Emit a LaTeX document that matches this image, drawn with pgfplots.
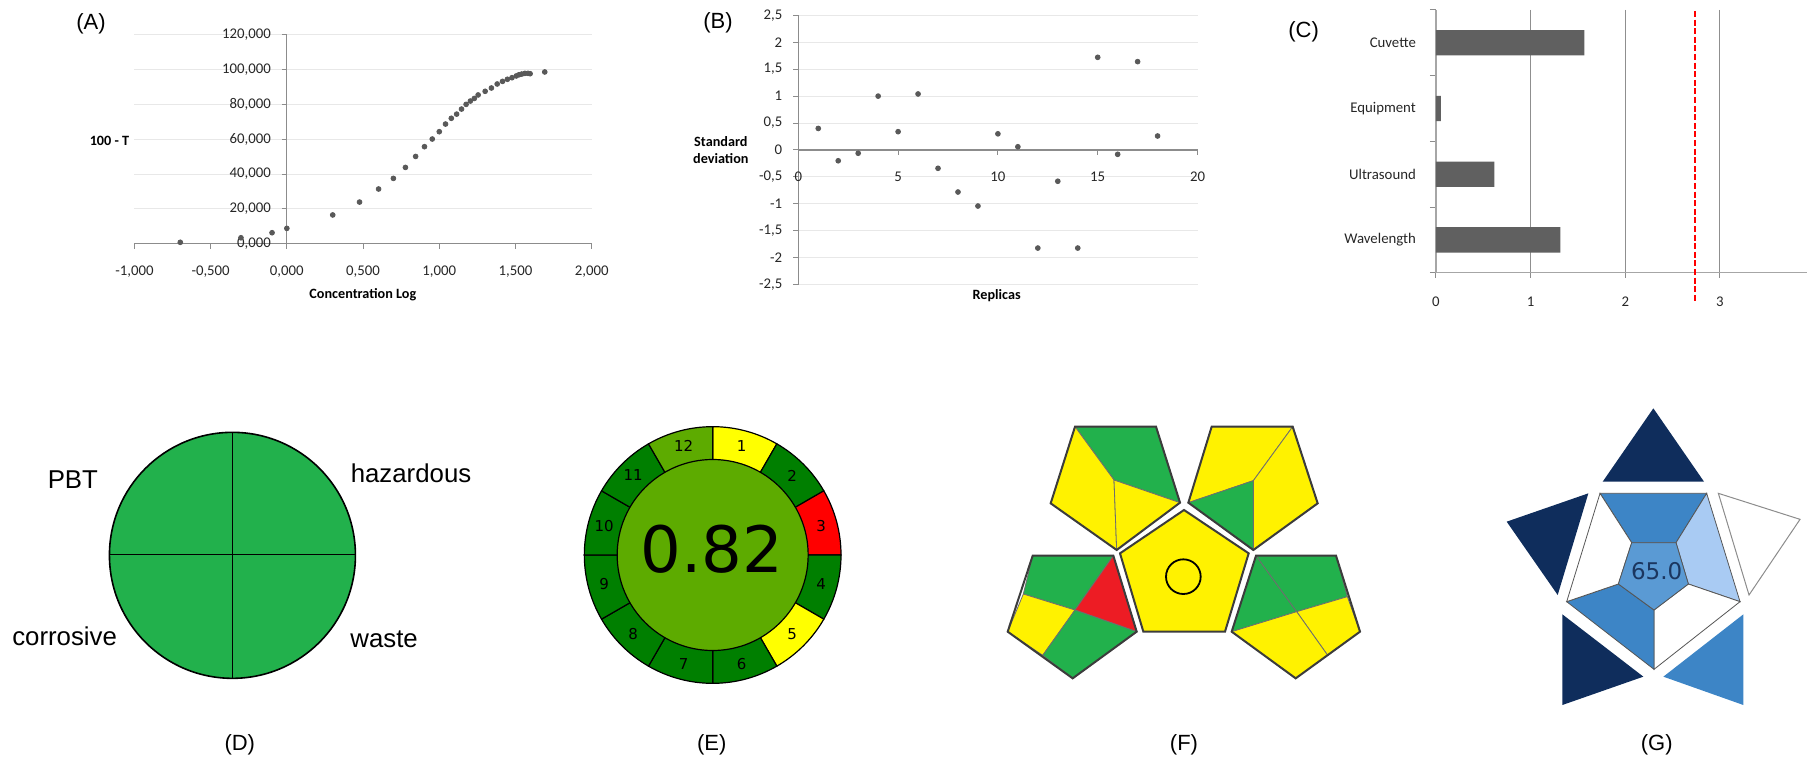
\documentclass[border=0pt]{standalone}
\usepackage{fontspec}
\setmainfont{Carlito}
\newfontfamily\arialf{Liberation Sans}
\newfontfamily\dejavu{DejaVu Sans}
\usepackage{pgfplots}
\pgfplotsset{compat=1.18}

\definecolor{markgray}{HTML}{595959}
\definecolor{gridgray}{HTML}{E8E8E8}
\definecolor{axgray}{HTML}{8C8C8C}
\definecolor{bargray}{HTML}{606060}
\definecolor{cgrid}{HTML}{8F8F8F}
\definecolor{dgreen}{HTML}{22B14C}
\definecolor{eyellow}{HTML}{FFFF00}
\definecolor{edark}{HTML}{007F00}
\definecolor{ered}{HTML}{FF0000}
\definecolor{elight}{HTML}{5DAB00}
\definecolor{fyellow}{HTML}{FFF200}
\definecolor{fgreen}{HTML}{22B14C}
\definecolor{fred}{HTML}{ED1C24}
\definecolor{fline}{HTML}{3C3C3C}
\definecolor{finner}{HTML}{6E6E6E}
\definecolor{gnavy}{HTML}{0F2D5C}
\definecolor{gmed}{HTML}{3D85C6}
\definecolor{glight}{HTML}{A9CBF3}
\definecolor{ginner}{HTML}{5A9AD4}
\definecolor{gtext}{HTML}{1B365F}
\definecolor{gline}{HTML}{555555}

\newcommand\tickfont{\fontsize{7.4}{8.9}\selectfont}
\newcommand\labfont{\bfseries\fontsize{7.1}{8.5}\selectfont}
\newcommand\panelfont{\arialf\fontsize{11}{13}\selectfont}

\pgfplotsset{
  panel/.style={scale only axis, anchor=south west, enlargelimits=false,
    hide axis, clip=false, y dir=reverse},
  excel/.style={scale only axis, anchor=south west, enlargelimits=false, clip=false,
    /pgf/number format/assume math mode=true,
    tick label style={font=\tickfont, black!85},
    axis line style={axgray, line width=0.6pt},
    tick style={axgray, line width=0.5pt},
    tick align=outside, major tick length=2.5pt,
  },
}

\begin{document}
\begin{tikzpicture}
\useasboundingbox (0,0) rectangle (903.5pt,380pt);

% ---------------- (A) ----------------
\begin{axis}[excel,
  at={(67.2pt,258.15pt)}, width=228.65pt, height=104.5pt,
  xmin=-1, xmax=2, ymin=0, ymax=120,
  axis x line*=bottom, axis y line*=middle,
  hide obscured x ticks=false, hide obscured y ticks=false,
  xtick={-1,-0.5,0,0.5,1,1.5,2}, ytick={0,20,40,60,80,100,120},
  ymajorgrids, grid style={gridgray, line width=0.5pt},
  xticklabel style={yshift=-5pt, /pgf/number format/.cd, fixed, fixed zerofill, precision=3, use comma, 1000 sep={}},
  yticklabel style={xshift=-2pt, /pgf/number format/.cd, fixed, fixed zerofill, precision=3, use comma, 1000 sep={}},
  xlabel={Concentration Log}, ylabel={100 - T},
  xlabel style={font=\labfont, at={(axis description cs:0.4995,-0.245)}, anchor=center},
  ylabel style={font=\labfont, rotate=-90, at={(axis description cs:-0.0545,0.491)}, anchor=center},
]
\addplot[only marks, mark=*, mark size=1.2pt, color=markgray] coordinates {
(-0.699,0.8) (-0.301,3.4) (-0.097,6.3) (0,8.8) (0.301,16.5) (0.477,23.9)
(0.602,31.4) (0.699,37.5) (0.778,43.8) (0.845,50.1) (0.903,55.7) (0.954,60.1)
(1.000,64.3) (1.041,68.7) (1.079,72.0) (1.114,74.4) (1.146,77.3) (1.176,80.0)
(1.204,81.9) (1.230,83.4) (1.255,85.4) (1.301,87.5) (1.342,89.4) (1.380,91.7)
(1.415,93.2) (1.447,94.4) (1.477,95.3) (1.505,96.3) (1.523,97.0) (1.541,97.4)
(1.562,97.8) (1.582,97.8) (1.596,97.6) (1.692,98.6)
};
\node[font=\panelfont] at (axis description cs:-0.095,1.051) {(A)};
\end{axis}

% ---------------- (B) ----------------
\begin{axis}[excel,
  at={(399.15pt,237.65pt)}, width=199.6pt, height=134.7pt,
  xmin=0, xmax=20, ymin=-2.5, ymax=2.5,
  axis x line*=middle, axis y line*=left,
  hide obscured x ticks=false, hide obscured y ticks=false,
  xtick={0,5,10,15,20}, ytick={-2.5,-2,-1.5,-1,-0.5,0,0.5,1,1.5,2,2.5},
  ymajorgrids, grid style={gridgray, line width=0.5pt},
  xticklabel style={yshift=-5pt},
  yticklabel style={xshift=-2pt, /pgf/number format/.cd, fixed, precision=1, use comma},
  xlabel={Replicas}, ylabel={Standard\\deviation},
  xlabel style={font=\labfont, at={(axis description cs:0.497,-0.042)}, anchor=center},
  ylabel style={font=\labfont, align=center, rotate=-90, at={(axis description cs:-0.194,0.5)}, anchor=center},
]
\addplot[only marks, mark=*, mark size=1.2pt, color=markgray] coordinates {
(1,0.40) (2,-0.20) (3,-0.06) (4,1.00) (5,0.34) (6,1.04) (7,-0.34) (8,-0.78) (9,-1.04)
(10,0.30) (11,0.06) (12,-1.82) (13,-0.58) (14,-1.82) (15,1.72) (16,-0.08) (17,1.64) (18,0.26)
};
\node[font=\panelfont] at (axis description cs:-0.201,0.9725) {(B)};
\end{axis}

% ---------------- (C) ----------------
\begin{axis}[excel,
  at={(717.95pt,243.65pt)}, width=185.55pt, height=131.35pt,
  xmin=0, xmax=3.92, ymin=0.5, ymax=4.5, y dir=reverse,
  axis x line*=bottom, axis y line*=left,
  xtick={0,1,2,3}, ytick={1,2,3,4},
  yticklabels={Cuvette,Equipment,Ultrasound,Wavelength},
  minor ytick={0.5,1.5,2.5,3.5,4.5},
  major y tick style={draw=none}, minor y tick style={axgray, line width=0.5pt},
  minor tick length=3pt,
  xmajorgrids, grid style={cgrid, line width=0.5pt},
  axis line style={draw=black!35, line width=0.7pt},
  xticklabel style={yshift=-6pt},
  yticklabel style={xshift=-4pt},
]
\addplot[xbar, bar width=12.65pt, fill=bargray, draw=none] coordinates {
(1.567,1) (0.053,2) (0.618,3) (1.315,4)};
\addplot[sharp plot, red, line width=1pt, dash pattern=on 3pt off 1.3pt] coordinates {
(2.74,0.515) (2.74,4.942)};
\node[font=\panelfont] at (axis description cs:-0.3565,0.917) {(C)};
\end{axis}

% ---------------- (D) ----------------
\begin{axis}[panel, at={(0pt,0pt)}, width=280pt, height=190pt,
  xmin=0, xmax=1560, ymin=0, ymax=1140]
\filldraw[fill=dgreen, draw=black, line width=0.8pt] (axis cs:647.5,526) circle[radius=61.5pt];
\draw[black, line width=0.8pt] (axis cs:648,157) -- (axis cs:648,895);
\draw[black, line width=0.8pt] (axis cs:305,524) -- (axis cs:990,524);
\node[font=\arialf\fontsize{12.9}{15}\selectfont] at (axis cs:203,298) {PBT};
\node[font=\arialf\fontsize{12.9}{15}\selectfont] at (axis cs:1145,280) {hazardous};
\node[font=\arialf\fontsize{12.9}{15}\selectfont] at (axis cs:180,770) {corrosive};
\node[font=\arialf\fontsize{12.9}{15}\selectfont] at (axis cs:1070,778) {waste};
\node[font=\panelfont] at (axis cs:668,1095) {(D)};
\end{axis}

% ---------------- (E) ----------------
\begin{axis}[panel, at={(270pt,0pt)}, width=210pt, height=190pt,
  xmin=0, xmax=1260, ymin=0, ymax=1140]
\filldraw[fill=eyellow, draw=black, line width=0.6pt] (axis cs:518,525) -- ++(90:64.17pt) arc[start angle=90, end angle=60, radius=64.17pt] -- cycle;
\filldraw[fill=edark, draw=black, line width=0.6pt] (axis cs:518,525) -- ++(60:64.17pt) arc[start angle=60, end angle=30, radius=64.17pt] -- cycle;
\filldraw[fill=ered, draw=black, line width=0.6pt] (axis cs:518,525) -- ++(30:64.17pt) arc[start angle=30, end angle=0, radius=64.17pt] -- cycle;
\filldraw[fill=edark, draw=black, line width=0.6pt] (axis cs:518,525) -- ++(0:64.17pt) arc[start angle=0, end angle=-30, radius=64.17pt] -- cycle;
\filldraw[fill=eyellow, draw=black, line width=0.6pt] (axis cs:518,525) -- ++(-30:64.17pt) arc[start angle=-30, end angle=-60, radius=64.17pt] -- cycle;
\filldraw[fill=edark, draw=black, line width=0.6pt] (axis cs:518,525) -- ++(-60:64.17pt) arc[start angle=-60, end angle=-90, radius=64.17pt] -- cycle;
\filldraw[fill=edark, draw=black, line width=0.6pt] (axis cs:518,525) -- ++(-90:64.17pt) arc[start angle=-90, end angle=-120, radius=64.17pt] -- cycle;
\filldraw[fill=edark, draw=black, line width=0.6pt] (axis cs:518,525) -- ++(-120:64.17pt) arc[start angle=-120, end angle=-150, radius=64.17pt] -- cycle;
\filldraw[fill=edark, draw=black, line width=0.6pt] (axis cs:518,525) -- ++(-150:64.17pt) arc[start angle=-150, end angle=-180, radius=64.17pt] -- cycle;
\filldraw[fill=edark, draw=black, line width=0.6pt] (axis cs:518,525) -- ++(-180:64.17pt) arc[start angle=-180, end angle=-210, radius=64.17pt] -- cycle;
\filldraw[fill=edark, draw=black, line width=0.6pt] (axis cs:518,525) -- ++(-210:64.17pt) arc[start angle=-210, end angle=-240, radius=64.17pt] -- cycle;
\filldraw[fill=elight, draw=black, line width=0.6pt] (axis cs:518,525) -- ++(-240:64.17pt) arc[start angle=-240, end angle=-270, radius=64.17pt] -- cycle;
\filldraw[fill=elight, draw=black, line width=0.6pt] (axis cs:518,525) circle[radius=47.75pt];
\path (axis cs:518,525) ++(75:56.2pt) node[font=\dejavu\fontsize{7.5}{9}\selectfont] {1};
\path (axis cs:518,525) ++(45:56.2pt) node[font=\dejavu\fontsize{7.5}{9}\selectfont] {2};
\path (axis cs:518,525) ++(15:56.2pt) node[font=\dejavu\fontsize{7.5}{9}\selectfont] {3};
\path (axis cs:518,525) ++(-15:56.2pt) node[font=\dejavu\fontsize{7.5}{9}\selectfont] {4};
\path (axis cs:518,525) ++(-45:56.2pt) node[font=\dejavu\fontsize{7.5}{9}\selectfont] {5};
\path (axis cs:518,525) ++(-75:56.2pt) node[font=\dejavu\fontsize{7.5}{9}\selectfont] {6};
\path (axis cs:518,525) ++(-105:56.2pt) node[font=\dejavu\fontsize{7.5}{9}\selectfont] {7};
\path (axis cs:518,525) ++(-135:56.2pt) node[font=\dejavu\fontsize{7.5}{9}\selectfont] {8};
\path (axis cs:518,525) ++(-165:56.2pt) node[font=\dejavu\fontsize{7.5}{9}\selectfont] {9};
\path (axis cs:518,525) ++(165:56.2pt) node[font=\dejavu\fontsize{7.5}{9}\selectfont] {10};
\path (axis cs:518,525) ++(135:56.2pt) node[font=\dejavu\fontsize{7.5}{9}\selectfont] {11};
\path (axis cs:518,525) ++(105:56.2pt) node[font=\dejavu\fontsize{7.5}{9}\selectfont] {12};
\node[font=\dejavu\fontsize{32}{36}\selectfont] at (axis cs:516,507) {0.82};
\node[font=\panelfont] at (axis cs:515,1095) {(E)};
\end{axis}

% ---------------- (F) ----------------
\begin{axis}[panel, at={(480pt,0pt)}, width=210pt, height=190pt,
  xmin=0, xmax=1260, ymin=0, ymax=1140]
% central pentagon
\addplot[fill=fyellow, draw=fline, line width=1pt] coordinates {(672,390) (866,520) (795,755) (550,755) (480,520)} -- cycle;
% upper left
\addplot[fill=fgreen, draw=finner, line width=0.4pt] coordinates {(345,140) (588,140) (660,368) (462,300)} -- cycle;
\addplot[fill=fyellow, draw=finner, line width=0.4pt] coordinates {(345,140) (462,300) (470,510) (272,370)} -- cycle;
\addplot[fill=fyellow, draw=finner, line width=0.4pt] coordinates {(462,300) (660,368) (470,510)} -- cycle;
\addplot[draw=fline, line width=1pt] coordinates {(345,140) (588,140) (660,368) (470,510) (272,370)} -- cycle;
% upper right
\addplot[fill=fyellow, draw=finner, line width=0.4pt] coordinates {(755,140) (998,140) (880,302) (685,368)} -- cycle;
\addplot[fill=fyellow, draw=finner, line width=0.4pt] coordinates {(998,140) (1073,370) (880,510) (880,302)} -- cycle;
\addplot[fill=fgreen, draw=finner, line width=0.4pt] coordinates {(685,368) (880,302) (880,510)} -- cycle;
\addplot[draw=fline, line width=1pt] coordinates {(755,140) (998,140) (1073,370) (880,510) (685,368)} -- cycle;
% lower left
\addplot[fill=fgreen, draw=finner, line width=0.4pt] coordinates {(218,527) (460,527) (345,690) (190,642)} -- cycle;
\addplot[fill=fred, draw=finner, line width=0.4pt] coordinates {(460,527) (530,755) (345,690)} -- cycle;
\addplot[fill=fyellow, draw=finner, line width=0.4pt] coordinates {(190,642) (345,690) (248,826) (143,755)} -- cycle;
\addplot[fill=fgreen, draw=finner, line width=0.4pt] coordinates {(345,690) (530,755) (338,895) (248,826)} -- cycle;
\addplot[draw=fline, line width=1pt] coordinates {(218,527) (460,527) (530,755) (338,895) (143,755)} -- cycle;
% lower right
\addplot[fill=fgreen, draw=finner, line width=0.4pt] coordinates {(888,527) (1010,695) (815,755)} -- cycle;
\addplot[fill=fgreen, draw=finner, line width=0.4pt] coordinates {(888,527) (1128,527) (1162,650) (1010,695)} -- cycle;
\addplot[fill=fyellow, draw=finner, line width=0.4pt] coordinates {(1162,650) (1200,755) (1103,826) (1010,695)} -- cycle;
\addplot[fill=fyellow, draw=finner, line width=0.4pt] coordinates {(815,755) (1010,695) (1103,826) (1007,895)} -- cycle;
\addplot[draw=fline, line width=1pt] coordinates {(888,527) (1128,527) (1200,755) (1007,895) (815,755)} -- cycle;
\draw[black, line width=0.9pt] (axis cs:670,590) circle[radius=8.67pt];
\node[font=\panelfont] at (axis cs:672,1095) {(F)};
\end{axis}

% ---------------- (G) ----------------
\begin{axis}[panel, at={(700pt,0pt)}, width=203.5pt, height=190pt,
  xmin=0, xmax=1221, ymin=0, ymax=1140]
\addplot[fill=gnavy, draw=none] coordinates {(760,85) (912,305) (608,305)} -- cycle;
\addplot[fill=gnavy, draw=none] coordinates {(320,425) (565,340) (473,645)} -- cycle;
\addplot[fill=white, draw=black!45, line width=0.5pt] coordinates {(955,340) (1200,418) (1047,645)} -- cycle;
\addplot[fill=gnavy, draw=none] coordinates {(487,703) (730,890) (487,975)} -- cycle;
\addplot[fill=gmed, draw=none] coordinates {(790,890) (1030,703) (1030,975)} -- cycle;
\addplot[fill=gmed, draw=gline, line width=0.4pt] coordinates {(600,340) (920,340) (828,488) (695,488)} -- cycle;
\addplot[fill=glight, draw=gline, line width=0.4pt] coordinates {(920,340) (1020,665) (865,612) (828,488)} -- cycle;
\addplot[fill=white, draw=gline, line width=0.4pt] coordinates {(1020,665) (762,868) (762,690) (865,612)} -- cycle;
\addplot[fill=gmed, draw=gline, line width=0.4pt] coordinates {(762,868) (500,665) (655,612) (762,690)} -- cycle;
\addplot[fill=white, draw=gline, line width=0.4pt] coordinates {(500,665) (600,340) (695,488) (655,612)} -- cycle;
\addplot[fill=ginner, draw=gline, line width=0.4pt] coordinates {(695,488) (828,488) (865,612) (762,690) (655,612)} -- cycle;
\node[font=\dejavu\fontsize{11.5}{13}\selectfont, text=gtext] at (axis cs:770,573) {65.0};
\node[font=\panelfont] at (axis cs:770,1095) {(G)};
\end{axis}
\end{tikzpicture}
\end{document}
